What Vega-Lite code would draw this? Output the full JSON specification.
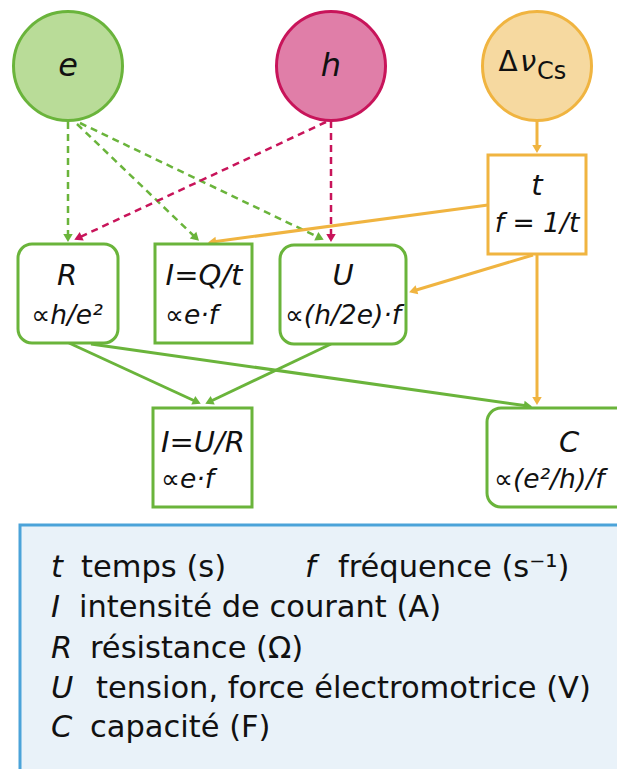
{
  "$schema": "https://vega.github.io/schema/vega-lite/v6.json",
  "width": 617,
  "height": 769,
  "autosize": {"type": "none"},
  "padding": 0,
  "background": "white",
  "config": {"view": {"stroke": null}},
  "datasets": {
    "legendbox": [{"x": 20, "x2": 680, "y": 525, "y2": 820}],
    "circles": [
      {"id": "e", "x": 68, "y": 66},
      {"id": "h", "x": 331, "y": 66},
      {"id": "cs", "x": 537, "y": 66}
    ],
    "boxes": [
      {"id": "t", "x": 488, "x2": 586, "y": 155, "y2": 254, "grp": "cs", "shape": "square"},
      {"id": "R", "x": 18, "x2": 118, "y": 244, "y2": 343, "grp": "e", "shape": "rounded"},
      {"id": "IQ", "x": 155, "x2": 252, "y": 244, "y2": 343, "grp": "e", "shape": "square"},
      {"id": "U", "x": 280, "x2": 406, "y": 245, "y2": 344, "grp": "e", "shape": "rounded"},
      {"id": "IUR", "x": 153, "x2": 252, "y": 408, "y2": 507, "grp": "e", "shape": "square"},
      {"id": "C", "x": 487, "x2": 660, "y": 408, "y2": 507, "grp": "e", "shape": "rounded"}
    ],
    "edges": [
      {"from": "e", "to": "R", "x": 68, "y": 122, "x2": 68, "y2": 238, "src": "e", "style": "dashed"},
      {"from": "e", "to": "IQ", "x": 77, "y": 124, "x2": 196, "y2": 238, "src": "e", "style": "dashed"},
      {"from": "e", "to": "U", "x": 80, "y": 123, "x2": 320, "y2": 238, "src": "e", "style": "dashed"},
      {"from": "h", "to": "R", "x": 326, "y": 122, "x2": 78, "y2": 238, "src": "h", "style": "dashed"},
      {"from": "h", "to": "U", "x": 331, "y": 121, "x2": 331, "y2": 238, "src": "h", "style": "dashed"},
      {"from": "cs", "to": "t", "x": 537, "y": 120, "x2": 537, "y2": 149, "src": "cs", "style": "solid"},
      {"from": "t", "to": "IQ", "x": 488, "y": 205, "x2": 212, "y2": 242, "src": "cs", "style": "solid"},
      {"from": "t", "to": "U", "x": 533, "y": 255, "x2": 413, "y2": 291, "src": "cs", "style": "solid"},
      {"from": "t", "to": "C", "x": 537, "y": 254, "x2": 537, "y2": 401, "src": "cs", "style": "solid"},
      {"from": "R", "to": "IUR", "x": 69, "y": 343, "x2": 197, "y2": 402, "src": "e", "style": "solid"},
      {"from": "U", "to": "IUR", "x": 331, "y": 344, "x2": 209, "y2": 402, "src": "e", "style": "solid"},
      {"from": "R", "to": "C", "x": 91, "y": 344, "x2": 528, "y2": 406, "src": "e", "style": "solid"}
    ],
    "labels": [
      {"text": "e", "x": 68, "y": 76, "role": "circ"},
      {"text": "h", "x": 331, "y": 76, "role": "circ"},
      {"text": "Δ", "x": 508, "y": 71, "role": "up"},
      {"text": "ν", "x": 528, "y": 71, "role": "var"},
      {"text": "Cs", "x": 537, "y": 79, "role": "sub"},
      {"text": "t", "x": 537, "y": 195, "role": "var"},
      {"text": "f = 1/t", "x": 537, "y": 232, "role": "fc"},
      {"text": "R", "x": 67, "y": 285, "role": "var"},
      {"text": "∝h/e²", "x": 67, "y": 324, "role": "fc"},
      {"text": "I=Q/t", "x": 204, "y": 285, "role": "var"},
      {"text": "∝e·f", "x": 165, "y": 324, "role": "fl"},
      {"text": "U", "x": 343, "y": 285, "role": "var"},
      {"text": "∝(h/2e)·f", "x": 343, "y": 324, "role": "fc"},
      {"text": "I=U/R", "x": 203, "y": 452, "role": "var"},
      {"text": "∝e·f", "x": 161, "y": 488, "role": "fl"},
      {"text": "C", "x": 569, "y": 452, "role": "var"},
      {"text": "∝(e²/h)/f", "x": 494, "y": 488, "role": "fl"},
      {"text": "t", "x": 51, "y": 577, "role": "li"},
      {"text": "temps (s)", "x": 81, "y": 577, "role": "ln"},
      {"text": "f", "x": 305, "y": 577, "role": "li"},
      {"text": "fréquence (s⁻¹)", "x": 338, "y": 577, "role": "ln"},
      {"text": "I", "x": 51, "y": 617, "role": "li"},
      {"text": "intensité de courant (A)", "x": 79, "y": 617, "role": "ln"},
      {"text": "R", "x": 51, "y": 658, "role": "li"},
      {"text": "résistance (Ω)", "x": 90, "y": 658, "role": "ln"},
      {"text": "U", "x": 51, "y": 698, "role": "li"},
      {"text": "tension, force électromotrice (V)", "x": 96, "y": 698, "role": "ln"},
      {"text": "C", "x": 51, "y": 737, "role": "li"},
      {"text": "capacité (F)", "x": 90, "y": 737, "role": "ln"}
    ]
  },
  "encoding": {
    "x": {"field": "x", "type": "quantitative", "scale": {"domain": [0, 617], "nice": false, "zero": false}, "axis": null},
    "y": {"field": "y", "type": "quantitative", "scale": {"domain": [0, 769], "nice": false, "zero": false, "reverse": true}, "axis": null}
  },
  "layer": [
    {
      "data": {"name": "legendbox"},
      "mark": {"type": "rect", "fill": "#e9f2f9", "stroke": "#4ba3d9", "strokeWidth": 3},
      "encoding": {"x2": {"field": "x2"}, "y2": {"field": "y2"}}
    },
    {
      "data": {"name": "edges"},
      "transform": [{"filter": "datum.style == 'dashed'"}],
      "mark": {"type": "rule", "strokeWidth": 2.5, "strokeDash": [7, 5]},
      "encoding": {
        "x2": {"field": "x2"}, "y2": {"field": "y2"},
        "stroke": {"field": "src", "type": "nominal", "scale": {"domain": ["e", "h", "cs"], "range": ["#6ab43b", "#c8145a", "#f0b440"]}, "legend": null}
      }
    },
    {
      "data": {"name": "edges"},
      "transform": [{"filter": "datum.style == 'solid'"}],
      "mark": {"type": "rule", "strokeWidth": 3},
      "encoding": {
        "x2": {"field": "x2"}, "y2": {"field": "y2"},
        "stroke": {"field": "src", "type": "nominal", "scale": {"domain": ["e", "h", "cs"], "range": ["#6ab43b", "#c8145a", "#f0b440"]}, "legend": null}
      }
    },
    {
      "data": {"name": "edges"},
      "transform": [{"calculate": "atan2(datum.x2 - datum.x, -(datum.y2 - datum.y)) * 180 / PI", "as": "ang"}],
      "mark": {"type": "point", "shape": "triangle-up", "filled": true, "opacity": 1, "size": 90},
      "encoding": {
        "x": {"field": "x2", "type": "quantitative"},
        "y": {"field": "y2", "type": "quantitative"},
        "angle": {"field": "ang", "type": "quantitative", "scale": null},
        "color": {"field": "src", "type": "nominal", "scale": {"domain": ["e", "h", "cs"], "range": ["#6ab43b", "#c8145a", "#f0b440"]}, "legend": null}
      }
    },
    {
      "data": {"name": "circles"},
      "mark": {"type": "point", "shape": "circle", "filled": true, "opacity": 1, "size": 11881, "strokeWidth": 3, "strokeOpacity": 1},
      "encoding": {
        "fill": {"field": "id", "type": "nominal", "scale": {"domain": ["e", "h", "cs"], "range": ["#b9dc98", "#e07ea8", "#f6d9a0"]}, "legend": null},
        "stroke": {"field": "id", "type": "nominal", "scale": {"domain": ["e", "h", "cs"], "range": ["#6ab43b", "#c8145a", "#f0b440"]}, "legend": null}
      }
    },
    {
      "data": {"name": "boxes"},
      "transform": [{"filter": "datum.shape == 'square'"}],
      "mark": {"type": "rect", "fill": "white", "strokeWidth": 3},
      "encoding": {
        "x2": {"field": "x2"}, "y2": {"field": "y2"},
        "stroke": {"field": "grp", "type": "nominal", "scale": {"domain": ["e", "h", "cs"], "range": ["#6ab43b", "#c8145a", "#f0b440"]}, "legend": null}
      }
    },
    {
      "data": {"name": "boxes"},
      "transform": [{"filter": "datum.shape == 'rounded'"}],
      "mark": {"type": "rect", "fill": "white", "strokeWidth": 3, "cornerRadius": 14},
      "encoding": {
        "x2": {"field": "x2"}, "y2": {"field": "y2"},
        "stroke": {"field": "grp", "type": "nominal", "scale": {"domain": ["e", "h", "cs"], "range": ["#6ab43b", "#c8145a", "#f0b440"]}, "legend": null}
      }
    },
    {
      "data": {"name": "labels"},
      "transform": [{"filter": "datum.role == 'circ'"}],
      "mark": {"type": "text", "font": "DejaVu Sans", "fontStyle": "italic", "fontSize": 32, "align": "center", "baseline": "alphabetic", "color": "#111"},
      "encoding": {"text": {"field": "text"}}
    },
    {
      "data": {"name": "labels"},
      "transform": [{"filter": "datum.role == 'var'"}],
      "mark": {"type": "text", "font": "DejaVu Sans", "fontStyle": "italic", "fontSize": 29, "align": "center", "baseline": "alphabetic", "color": "#111"},
      "encoding": {"text": {"field": "text"}}
    },
    {
      "data": {"name": "labels"},
      "transform": [{"filter": "datum.role == 'up'"}],
      "mark": {"type": "text", "font": "DejaVu Sans", "fontSize": 28, "align": "center", "baseline": "alphabetic", "color": "#111"},
      "encoding": {"text": {"field": "text"}}
    },
    {
      "data": {"name": "labels"},
      "transform": [{"filter": "datum.role == 'sub'"}],
      "mark": {"type": "text", "font": "DejaVu Sans", "fontSize": 24, "align": "left", "baseline": "alphabetic", "color": "#111"},
      "encoding": {"text": {"field": "text"}}
    },
    {
      "data": {"name": "labels"},
      "transform": [{"filter": "datum.role == 'fc'"}],
      "mark": {"type": "text", "font": "DejaVu Sans", "fontStyle": "italic", "fontSize": 26.5, "align": "center", "baseline": "alphabetic", "color": "#111"},
      "encoding": {"text": {"field": "text"}}
    },
    {
      "data": {"name": "labels"},
      "transform": [{"filter": "datum.role == 'fl'"}],
      "mark": {"type": "text", "font": "DejaVu Sans", "fontStyle": "italic", "fontSize": 26.5, "align": "left", "baseline": "alphabetic", "color": "#111"},
      "encoding": {"text": {"field": "text"}}
    },
    {
      "data": {"name": "labels"},
      "transform": [{"filter": "datum.role == 'li'"}],
      "mark": {"type": "text", "font": "DejaVu Sans", "fontStyle": "italic", "fontSize": 30.5, "align": "left", "baseline": "alphabetic", "color": "#111"},
      "encoding": {"text": {"field": "text"}}
    },
    {
      "data": {"name": "labels"},
      "transform": [{"filter": "datum.role == 'ln'"}],
      "mark": {"type": "text", "font": "DejaVu Sans", "fontSize": 30.5, "align": "left", "baseline": "alphabetic", "color": "#111"},
      "encoding": {"text": {"field": "text"}}
    }
  ]
}
